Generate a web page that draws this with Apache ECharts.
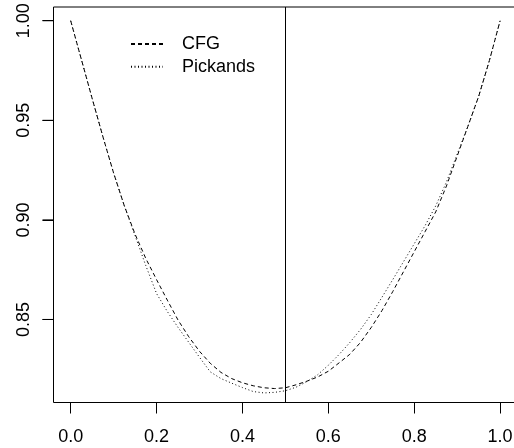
<!DOCTYPE html>
<html>
<head>
<meta charset="utf-8">
<script src="https://cdn.jsdelivr.net/npm/echarts@6/dist/echarts.min.js"></script>
<style>
html,body{margin:0;padding:0;background:#fff;}
#chart{width:514px;height:448px;}
</style>
</head>
<body>
<div id="chart"></div>
<script>
const tValues = [0,0.025,0.05,0.075,0.1,0.125,0.15,0.175,0.2,0.225,0.25,0.275,0.3,0.325,0.35,0.375,0.4,0.425,0.45,0.475,0.5,0.525,0.55,0.575,0.6,0.625,0.65,0.675,0.7,0.725,0.75,0.775,0.8,0.825,0.85,0.875,0.9,0.925,0.95,0.975,1];
const cfgValues = [1.000,0.9805,0.961,0.9418,0.9235,0.9070,0.8928,0.8806,0.8700,0.8597,0.8497,0.8413,0.8340,0.8280,0.8234,0.8203,0.8182,0.8167,0.8157,0.8153,0.8157,0.8172,0.8190,0.8211,0.8240,0.8282,0.8325,0.8385,0.8460,0.8545,0.8640,0.8740,0.8840,0.8940,0.9040,0.9170,0.9320,0.9470,0.9620,0.9800,1.000];
const pickandsValues = [1.000,0.9805,0.961,0.9418,0.9235,0.9070,0.8920,0.8770,0.8630,0.8540,0.8460,0.8385,0.8310,0.8237,0.8203,0.8180,0.8158,0.8138,0.8131,0.8134,0.8142,0.8160,0.8188,0.8222,0.8270,0.8324,0.8384,0.8450,0.8525,0.8612,0.8700,0.8790,0.8880,0.8970,0.9070,0.9190,0.9330,0.9470,0.9620,0.9800,1.000];
const xTicks = [0,0.2,0.4,0.6,0.8,1.0];
const yTicks = [0.85,0.90,0.95,1.00];
const verticalLineX = 0.5;
const yMin = 0.8083, yMax = 1.0069;

const font = 'Liberation Sans, Arial, Helvetica, sans-serif';
const chart = echarts.init(document.getElementById('chart'), null, {renderer:'canvas'});

// y-axis tick marks drawn in a narrow helper grid just left of the plot box
const tickSeries = yTicks.map(v => ({
  name:'ytick-' + v, type:'line', xAxisIndex:1, yAxisIndex:1,
  symbol:'none', showSymbol:false, silent:true, clip:false, z:10,
  lineStyle:{color:'#000', width:1, type:'solid'},
  data:[[0, v],[1, v]]
}));

chart.setOption({
  animation:false,
  backgroundColor:'#ffffff',
  grid:[
    {left:53.5, top:7, right:-3.3, bottom:45.5, show:true, borderColor:'#000', borderWidth:1, backgroundColor:'transparent', containLabel:false, outerBoundsMode:'none'},
    {left:42.5, top:7, right:460.5, bottom:45.5, show:false, containLabel:false, outerBoundsMode:'none'}
  ],
  legend:{
    orient:'vertical', left:130, top:34, padding:0, itemWidth:32, itemHeight:10, itemGap:2.7,
    itemStyle:{opacity:0, borderWidth:0},
    textStyle:{fontFamily:font, fontSize:18, color:'#000', lineHeight:20, padding:[0,0,0,14]},
    data:['CFG','Pickands']
  },
  xAxis:[{
    gridIndex:0, type:'value', min:-0.04, max:1.04,
    axisLine:{show:false, onZero:false},
    splitLine:{show:false},
    axisTick:{show:true, inside:false, length:11, lineStyle:{color:'#000', width:1}, customValues:xTicks},
    axisLabel:{show:true, margin:26, fontFamily:font, fontSize:18, color:'#000', customValues:xTicks, formatter:v=>Number(v).toFixed(1)}
  },{
    gridIndex:1, type:'value', min:0, max:1, show:false
  }],
  yAxis:[{
    gridIndex:0, type:'value', min:yMin, max:yMax,
    axisLine:{show:false, onZero:false},
    splitLine:{show:false},
    axisTick:{show:true, inside:false, length:11, lineStyle:{color:'#000', width:1}, customValues:yTicks},
    axisLabel:{show:true, rotate:90, margin:20, fontFamily:font, fontSize:18, color:'#000', customValues:yTicks, formatter:v=>Number(v).toFixed(2)}
  },{
    gridIndex:1, type:'value', min:yMin, max:yMax, show:false
  }],
  series:[
    {name:'CFG', type:'line', symbol:'none', showSymbol:false, smooth:false, xAxisIndex:0, yAxisIndex:0,
     lineStyle:{color:'#000', width:1, type:[4,3]}, itemStyle:{color:'#000'},
     data:tValues.map((t,i)=>[t,cfgValues[i]]),
     markLine:{silent:true, symbol:['none','none'], label:{show:false},
       lineStyle:{color:'#000', width:1, type:'solid'},
       data:[{xAxis:verticalLineX}]}
    },
    {name:'Pickands', type:'line', symbol:'none', showSymbol:false, smooth:false, xAxisIndex:0, yAxisIndex:0,
     lineStyle:{color:'#000', width:1, type:[1,2.5]}, itemStyle:{color:'#000'},
     data:tValues.map((t,i)=>[t,pickandsValues[i]])
    }
  ].concat(tickSeries)
});
</script>
</body>
</html>
